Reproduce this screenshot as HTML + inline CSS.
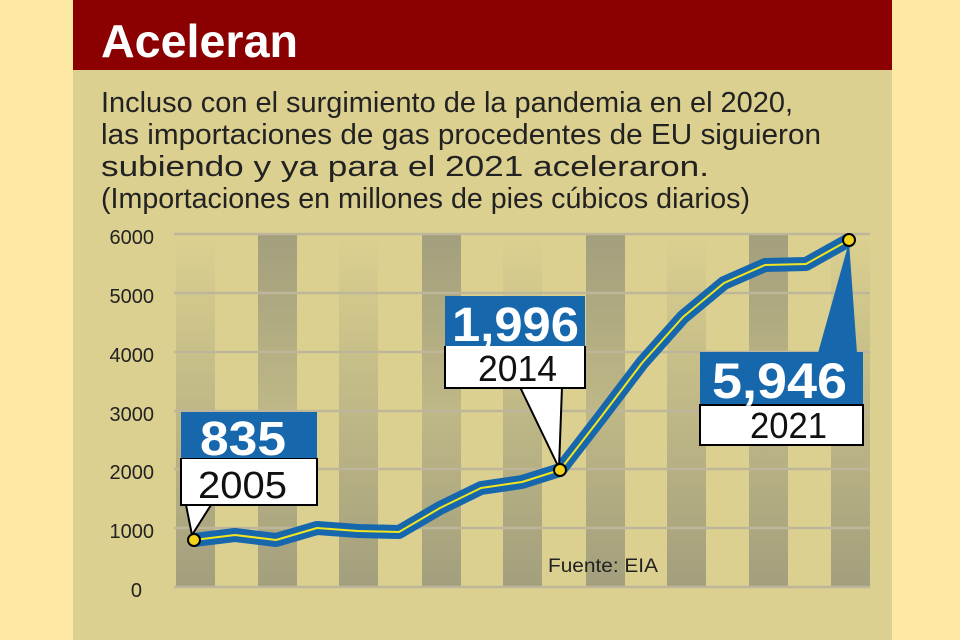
<!DOCTYPE html>
<html><head><meta charset="utf-8"><style>
html,body{margin:0;padding:0;background:#fde9a3;}
svg{display:block;font-family:"Liberation Sans",sans-serif;}
</style></head><body>
<svg width="960" height="640" viewBox="0 0 960 640">
<defs>
<linearGradient id="gb" x1="0" y1="0" x2="0" y2="1">
<stop offset="0" stop-color="#a39f7d" stop-opacity="0"/>
<stop offset="0.5" stop-color="#a39f7d" stop-opacity="0.5"/>
<stop offset="1" stop-color="#a39f7d"/>
</linearGradient>
<linearGradient id="gt" x1="0" y1="0" x2="0" y2="1">
<stop offset="0" stop-color="#a39f7d"/>
<stop offset="0.5" stop-color="#a39f7d" stop-opacity="0.5"/>
<stop offset="1" stop-color="#a39f7d"/>
</linearGradient>
</defs>
<rect x="0" y="0" width="960" height="640" fill="#fde9a3"/>
<rect x="73" y="0" width="819" height="640" fill="#dbd08f"/>
<rect x="73" y="0" width="819" height="70" fill="#8b0000"/>
<text x="101" y="57" font-size="46" font-weight="bold" fill="#fff" textLength="197" lengthAdjust="spacingAndGlyphs">Aceleran</text>
<g font-size="29" fill="#222">
<text x="101" y="112" textLength="692" lengthAdjust="spacingAndGlyphs">Incluso con el surgimiento de la pandemia en el 2020,</text>
<text x="101" y="144" textLength="720" lengthAdjust="spacingAndGlyphs">las importaciones de gas procedentes de EU siguieron</text>
<text x="101" y="176" textLength="608" lengthAdjust="spacingAndGlyphs">subiendo y ya para el 2021 aceleraron.</text>
<text x="101" y="208" textLength="649" lengthAdjust="spacingAndGlyphs">(Importaciones en millones de pies cúbicos diarios)</text>
</g>
<rect x="176" y="235" width="39" height="352" fill="url(#gb)"/>
<rect x="258" y="235" width="39" height="352" fill="url(#gt)"/>
<rect x="339" y="235" width="39" height="352" fill="url(#gb)"/>
<rect x="422" y="235" width="39" height="352" fill="url(#gt)"/>
<rect x="503" y="235" width="39" height="352" fill="url(#gb)"/>
<rect x="586" y="235" width="39" height="352" fill="url(#gt)"/>
<rect x="667" y="235" width="39" height="352" fill="url(#gb)"/>
<rect x="749" y="235" width="39" height="352" fill="url(#gt)"/>
<rect x="831" y="235" width="39" height="352" fill="url(#gb)"/>
<g stroke="#bdb69a" stroke-width="2.5">
<line x1="174" y1="234" x2="870" y2="234"/>
<line x1="174" y1="293" x2="870" y2="293"/>
<line x1="174" y1="352" x2="870" y2="352"/>
<line x1="174" y1="411" x2="870" y2="411"/>
<line x1="174" y1="469" x2="870" y2="469"/>
<line x1="174" y1="528" x2="870" y2="528"/>
<line x1="174" y1="587" x2="870" y2="587"/>
</g>
<g font-size="20" fill="#222" text-anchor="end">
<text x="154" y="244">6000</text>
<text x="154" y="303">5000</text>
<text x="154" y="362">4000</text>
<text x="154" y="421">3000</text>
<text x="154" y="479">2000</text>
<text x="154" y="538">1000</text>
<text x="142" y="597">0</text>
</g>
<polyline points="194,540 235,535 276,540 317,528 358,531 399,532 440,508 481,488 522,482 560,470 601,417 642,363 683,317 724,283 765,265 806,264 849,240" fill="none" stroke="#1767ad" stroke-width="14" stroke-linejoin="round"/>
<polyline points="194,540 235,535 276,540 317,528 358,531 399,532 440,508 481,488 522,482 560,470 601,417 642,363 683,317 724,283 765,265 806,264 849,240" fill="none" stroke="#f2e520" stroke-width="2" stroke-linejoin="round"/>
<polygon points="186,505 192,535 211,505" fill="#fff" stroke="#000" stroke-width="2"/>
<rect x="181" y="412" width="136" height="47" fill="#1767ad"/>
<rect x="181" y="459" width="136" height="46" fill="#fff" stroke="#000" stroke-width="2"/>
<rect x="182" y="459" width="134" height="44" fill="#fff"/>
<text x="200" y="455" font-size="48" font-weight="bold" fill="#fff" textLength="86" lengthAdjust="spacingAndGlyphs">835</text>
<text x="198" y="498" font-size="38" fill="#111" textLength="89" lengthAdjust="spacingAndGlyphs">2005</text>
<polygon points="520,387 559,468 562,387" fill="#fff" stroke="#000" stroke-width="2"/>
<rect x="445" y="296" width="140" height="51" fill="#1767ad"/>
<rect x="445" y="347" width="140" height="41" fill="#fff" stroke="#000" stroke-width="2"/>
<rect x="446" y="346" width="138" height="40" fill="#fff"/>
<text x="452" y="341" font-size="48" font-weight="bold" fill="#fff" textLength="127" lengthAdjust="spacingAndGlyphs">1,996</text>
<text x="478" y="381" font-size="36" fill="#111" textLength="79" lengthAdjust="spacingAndGlyphs">2014</text>
<polygon points="818,353 849,242 857,353" fill="#1767ad"/>
<rect x="700" y="352" width="163" height="53" fill="#1767ad"/>
<rect x="700" y="405" width="163" height="40" fill="#fff" stroke="#000" stroke-width="2"/>
<text x="712" y="398" font-size="50" font-weight="bold" fill="#fff" textLength="135" lengthAdjust="spacingAndGlyphs">5,946</text>
<text x="750" y="438" font-size="36" fill="#111" textLength="77" lengthAdjust="spacingAndGlyphs">2021</text>
<circle cx="194" cy="540" r="6" fill="#f2d21c" stroke="#000" stroke-width="2"/>
<circle cx="560" cy="470" r="6" fill="#f2d21c" stroke="#000" stroke-width="2"/>
<circle cx="849" cy="240" r="6" fill="#f2d21c" stroke="#000" stroke-width="2"/>
<text x="548" y="572" font-size="19" fill="#222" textLength="110" lengthAdjust="spacingAndGlyphs">Fuente: EIA</text>
</svg>
</body></html>
